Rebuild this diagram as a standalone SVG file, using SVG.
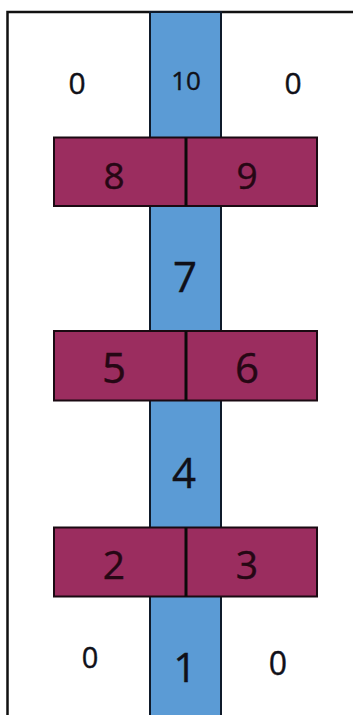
<svg xmlns="http://www.w3.org/2000/svg" width="353" height="715" viewBox="0 0 353 715">
<style>
.frame{fill:none;stroke:#111;stroke-width:2.5}
.col{fill:#5b9bd5;stroke:#0f1a2a;stroke-width:2}
.bar{fill:#9b2d5f;stroke:#1a0a12;stroke-width:2}
.div{stroke:#0a0a0a;stroke-width:3}
text{font-family:"Open Sans","Liberation Sans",sans-serif;text-anchor:middle;fill:#101018;stroke:#101018;stroke-width:0.4}
.m{fill:#260714;stroke:#260714}
</style>
<rect width="353" height="715" fill="#fff"/>
<path class="frame" d="M7.5,716 V12 H354"/>
<g id="column">
<rect class="col" x="150" y="12" width="71" height="710"/>
</g>
<g id="n0tl"><text x="77" y="94" font-size="30">0</text></g>
<g id="n10"><text x="186" y="90" font-size="26">10</text></g>
<g id="n0tr"><text x="293" y="94" font-size="30">0</text></g>
<g id="bar89">
<rect class="bar" x="54" y="137.5" width="263" height="68.5"/>
<line class="div" x1="186" y1="137.5" x2="186" y2="206"/>
<text class="m" x="114" y="188.5" font-size="37">8</text>
<text class="m" x="247" y="188.5" font-size="37">9</text>
</g>
<g id="n7"><text x="185" y="292" font-size="42">7</text></g>
<g id="bar56">
<rect class="bar" x="54" y="331" width="263" height="69.5"/>
<line class="div" x1="186" y1="331" x2="186" y2="400.5"/>
<text class="m" x="114" y="383" font-size="42">5</text>
<text class="m" x="247" y="383" font-size="42">6</text>
</g>
<g id="n4"><text x="184" y="488" font-size="42">4</text></g>
<g id="bar23">
<rect class="bar" x="54" y="527.5" width="263" height="69"/>
<line class="div" x1="186" y1="527.5" x2="186" y2="596.5"/>
<text class="m" x="114" y="579" font-size="39">2</text>
<text class="m" x="247" y="579" font-size="39">3</text>
</g>
<g id="n0bl"><text x="90" y="668" font-size="29">0</text></g>
<g id="n1"><text x="185" y="682" font-size="41">1</text></g>
<g id="n0br"><text x="278" y="675" font-size="32">0</text></g>
</svg>
